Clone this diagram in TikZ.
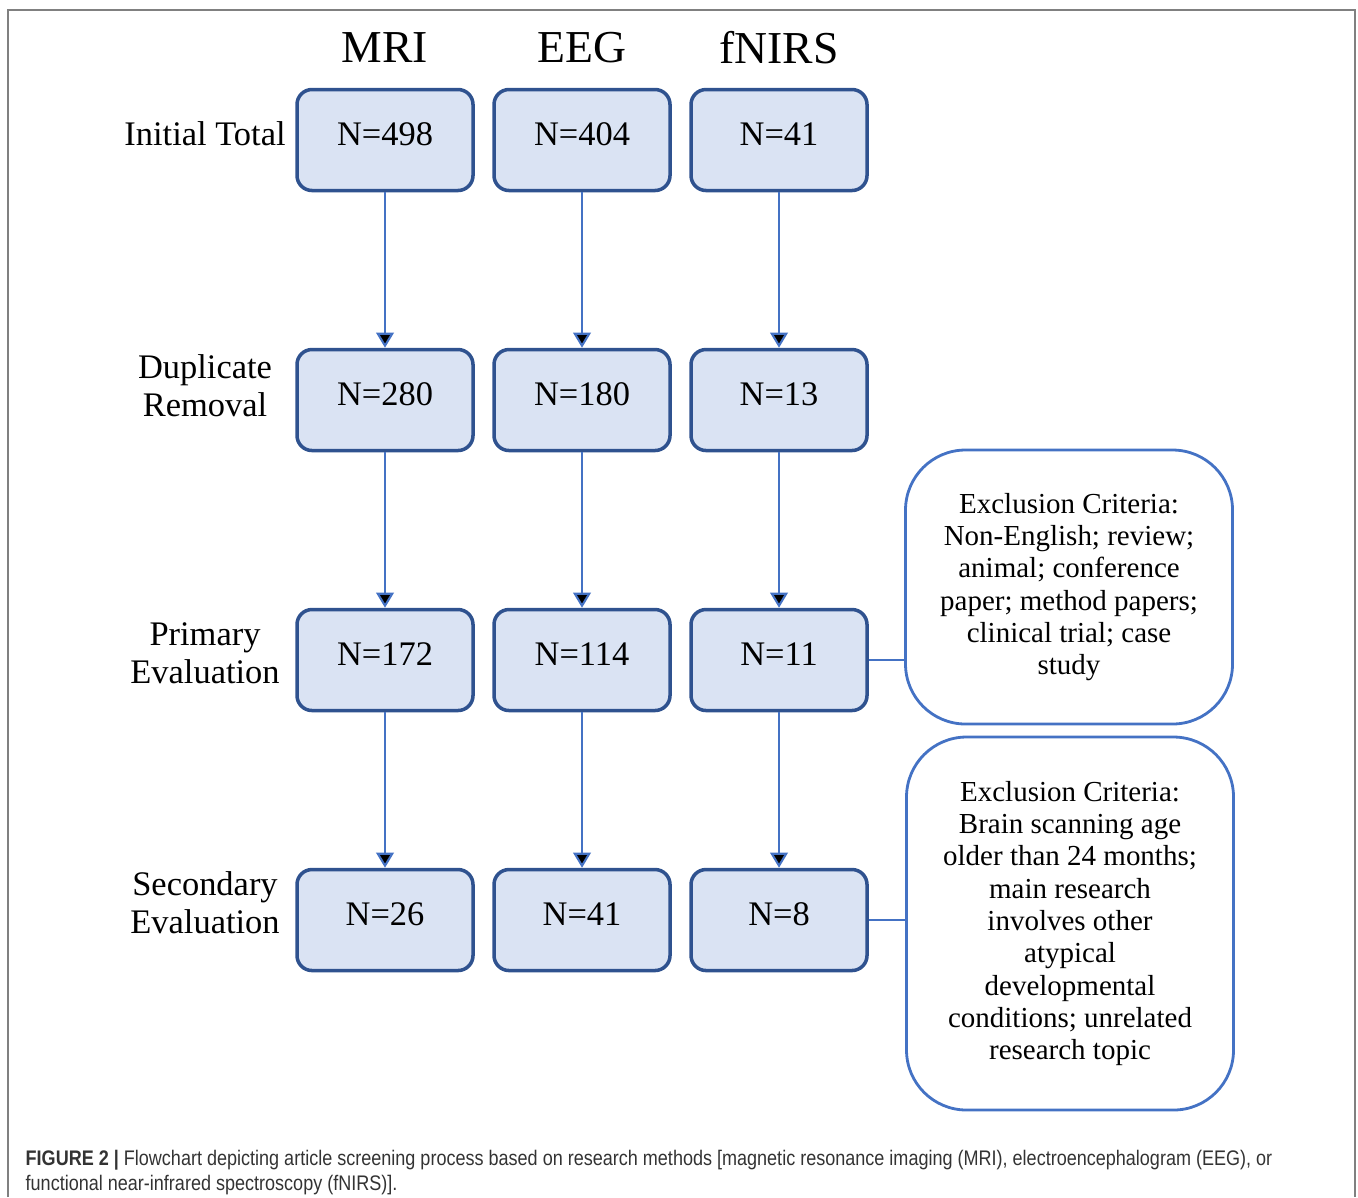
\documentclass[tikz,border=0pt]{standalone}
\usepackage{fontspec}
\setmainfont{Liberation Serif}
\newfontfamily\capfont[FakeStretch=0.855]{Liberation Sans}
\usetikzlibrary{arrows.meta, positioning}
\definecolor{boxfill}{RGB}{218,227,243}
\definecolor{boxline}{RGB}{47,82,143}
\definecolor{arrowblue}{RGB}{68,114,196}

\begin{document}
\begin{tikzpicture} [%
    >= { Triangle[width=5pt, length=4.3pt] },
    node distance = 2.6cm,
    on grid,
    count/.style = {%
      rectangle,
      rounded corners = 0.15cm,
      minimum width = 1.76cm,
      minimum height = 1.01cm,
      text depth = 0.12cm,
      fill = boxfill,
      draw = boxline,
      line width = 1pt,
      font = \fontsize{9.8}{11}\selectfont },
    excl/.style = {%
      rectangle,
      rounded corners = 0.6cm,
      minimum width = 3.27cm,
      draw = arrowblue,
      line width = 0.8pt,
      align = center,
      font = \fontsize{8.25}{9.2}\selectfont },
    stage/.style = { align = center, font = \fontsize{9.8}{10.8}\selectfont },
    method/.style = { font = \fontsize{13}{15}\selectfont },
    flow/.style = { ->, draw = arrowblue, line width = 0.6pt },
    link/.style = { draw = arrowblue, line width = 0.6pt },
    caption/.style = { anchor = west, inner sep = 0pt, text = black!80,
      font = \capfont\fontsize{6}{7}\selectfont }
  ]

  \useasboundingbox (0,0) rectangle (13.58,-11.97);
  \draw[gray, line width=0.8pt] (0.08,-11.97) |- (13.55,-0.10) -- (13.55,-11.97);

  % counts per method
  \node[count] (mri1) at (3.85,-1.40) {N=498};
  \node[count] (eeg1) [right=1.97cm of mri1] {N=404};
  \node[count] (nirs1) [right=1.97cm of eeg1] {N=41};

  \node[count] (mri2) [below=of mri1] {N=280};
  \node[count] (eeg2) [below=of eeg1] {N=180};
  \node[count] (nirs2) [below=of nirs1] {N=13};

  \node[count] (mri3) [below=of mri2] {N=172};
  \node[count] (eeg3) [below=of eeg2] {N=114};
  \node[count] (nirs3) [below=of nirs2] {N=11};

  \node[count] (mri4) [below=of mri3] {N=26};
  \node[count] (eeg4) [below=of eeg3] {N=41};
  \node[count] (nirs4) [below=of nirs3] {N=8};

  % column and row titles
  \node[method] (hMRI) [above=0.92cm of mri1] {MRI};
  \node[method] (hEEG) [above=0.92cm of eeg1] {EEG};
  \node[method] (hNIRS) [above=0.92cm of nirs1] {fNIRS};

  \node[stage] (sInit) [left=1.8cm of mri1, yshift=0.06cm] {Initial Total};
  \node[stage] (sDup) [left=1.8cm of mri2, yshift=0.14cm] {Duplicate\\Removal};
  \node[stage] (sPrim) [left=1.8cm of mri3, yshift=0.07cm] {Primary\\Evaluation};
  \node[stage] (sSec) [left=1.8cm of mri4, yshift=0.17cm] {Secondary\\Evaluation};

  % exclusion notes
  \node[excl, minimum height=2.74cm] (ex1) at (10.69,-5.87)
    {Exclusion Criteria:\\Non-English; review;\\animal; conference\\paper; method papers;\\clinical trial; case\\study};
  \node[excl, minimum height=3.73cm] (ex2) at (10.70,-9.235)
    {Exclusion Criteria:\\Brain scanning age\\older than 24 months;\\main research\\involves other\\atypical\\developmental\\conditions; unrelated\\research topic};

  \path[flow]
  (mri1) edge (mri2) (mri2) edge (mri3) (mri3) edge (mri4)
  (eeg1) edge (eeg2) (eeg2) edge (eeg3) (eeg3) edge (eeg4)
  (nirs1) edge (nirs2) (nirs2) edge (nirs3) (nirs3) edge (nirs4);

  \draw[link] (nirs3.east) -- (nirs3.east -| ex1.west);
  \draw[link] (nirs4.east) -- (nirs4.east -| ex2.west);

  % caption
  \node[caption] (cap1) at (0.25,-11.60)
    {\textbf{FIGURE 2 |} Flowchart depicting article screening process based on research methods [magnetic resonance imaging (MRI), electroencephalogram (EEG), or};
  \node[caption] (cap2) at (0.25,-11.85)
    {functional near-infrared spectroscopy (fNIRS)].};

\end{tikzpicture}
\end{document}
